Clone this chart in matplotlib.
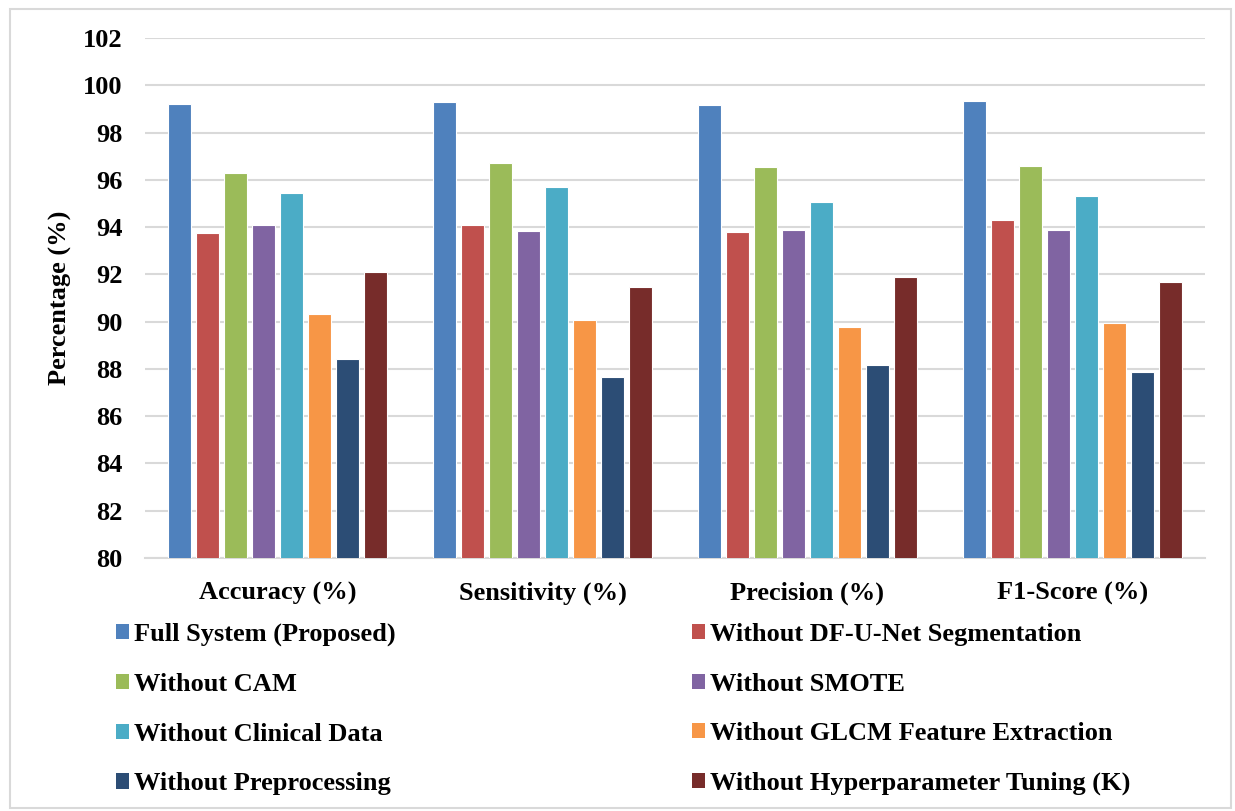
import numpy as np
import matplotlib
matplotlib.use("Agg")
import matplotlib.pyplot as plt
from matplotlib.patches import Rectangle, Patch

plt.rcParams['font.family'] = ['Liberation Serif', 'DejaVu Serif']
plt.rcParams['font.weight'] = 'bold'

# метрики
metrics = ["Accuracy (%)", "Sensitivity (%)", "Precision (%)", "F1-Score (%)"]

# варианты системы (ablation)
variants = [
    "Full System (Proposed)",
    "Without DF-U-Net Segmentation",
    "Without CAM",
    "Without SMOTE",
    "Without Clinical Data",
    "Without GLCM Feature Extraction",
    "Without Preprocessing",
    "Without Hyperparameter Tuning (K)",
]

# значения по вариантам: accuracy, sensitivity, precision, f1
full_system = [99.19, 99.30, 99.16, 99.34]
no_dfunet = [93.74, 94.10, 93.79, 94.30]
no_cam = [96.30, 96.73, 96.54, 96.58]
no_smote = [94.10, 93.83, 93.89, 93.86]
no_clinical = [95.43, 95.68, 95.07, 95.33]
no_glcm = [90.31, 90.09, 89.76, 89.93]
no_preproc = [88.43, 87.67, 88.17, 87.88]
no_tuning = [92.09, 91.48, 91.88, 91.68]

series = [full_system, no_dfunet, no_cam, no_smote,
          no_clinical, no_glcm, no_preproc, no_tuning]

colors = ["#4F81BD", "#C0504D", "#9BBB59", "#8064A2",
          "#4BACC6", "#F79646", "#2C4D75", "#772C2A"]

W, H = 1235, 811
fig = plt.figure(figsize=(W / 100, H / 100), dpi=100)
ax = fig.add_axes([145 / W, 1 - 558 / H, 1060 / W, 520 / H])

x = np.arange(len(metrics))
pitch = 0.1057
bw = 0.085
for i, (vals, c) in enumerate(zip(series, colors)):
    ax.bar(x + (i - 3.5) * pitch, vals, width=bw, color=c,
           edgecolor="white", linewidth=0.8, zorder=3)

ax.set_xlim(-0.5, len(metrics) - 0.5)
ax.set_ylim(80, 102)
ax.set_yticks(np.arange(80, 103, 2))
ax.set_xticks(x)
ax.set_xticklabels(metrics)

ax.grid(axis="y", color="#D9D9D9", linewidth=1.5, zorder=0)
for s in ["top", "right", "left"]:
    ax.spines[s].set_visible(False)
ax.spines["bottom"].set_color("#D9D9D9")
ax.spines["bottom"].set_linewidth(1.5)
ax.tick_params(axis="both", length=0, labelsize=19)
ax.tick_params(axis="y", pad=16)
ax.tick_params(axis="x", pad=17)

ax.set_ylabel("Percentage (%)", fontsize=19, fontweight="bold")
ax.yaxis.set_label_coords(-0.069, 0.5)

# легенда: два столбца, порядок построчно
handles = [Patch(facecolor=c, edgecolor="none") for c in colors]
order = [0, 2, 4, 6, 1, 3, 5, 7]
fig.legend([handles[i] for i in order], [variants[i] for i in order],
           ncol=2, loc="upper left", bbox_to_anchor=(116 / W, 1 - 623 / H),
           frameon=False, fontsize=19, handlelength=0.5, handleheight=0.5,
           handletextpad=0.2, labelspacing=1.01, columnspacing=11.2,
           borderpad=0, borderaxespad=0)

# рамка вокруг рисунка
fig.patches.append(Rectangle((10 / W, 3 / H), 1221 / W, 1 - 12 / H,
                             transform=fig.transFigure, fill=False,
                             edgecolor="#D9D9D9", linewidth=1.5))

fig.savefig("out.png", dpi=100)
